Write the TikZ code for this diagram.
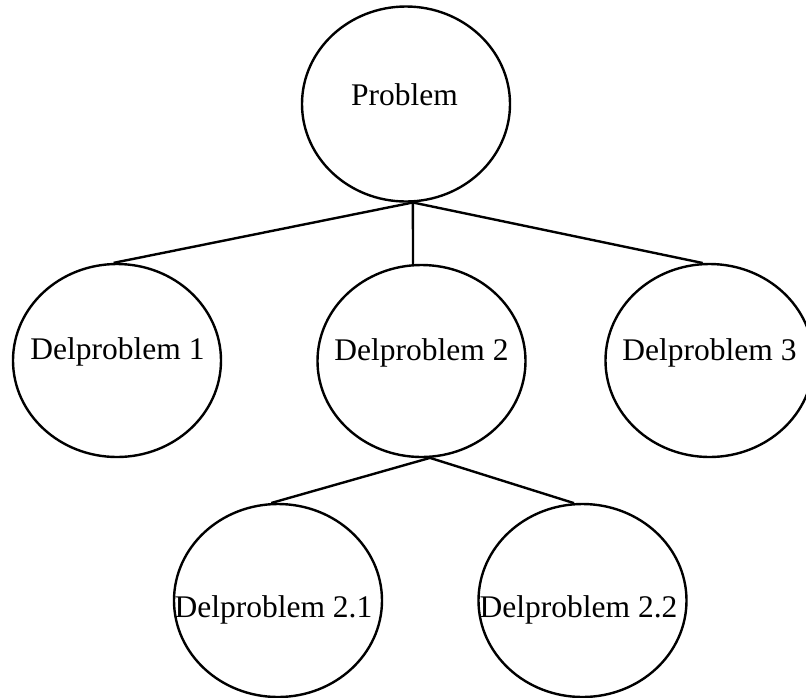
\documentclass[tikz,border=0pt]{standalone}
\usepackage{fontspec}
\setmainfont{Liberation Serif}
\usetikzlibrary{shapes.geometric}
\begin{document}
\begin{tikzpicture}[x=1pt,y=-1pt,
  bubble/.style={draw=black, line width=2.4pt, ellipse, inner sep=0pt,
    minimum width=208pt, minimum height=193pt},
  caption/.style={anchor=base, inner sep=0pt,
    font=\fontsize{31.5}{37}\selectfont},
  link/.style={draw=black, line width=2.4pt}]
  \useasboundingbox (0,0) rectangle (806,697);

  % problem tree: ellipses
  \node[bubble, minimum height=195pt] (p)   at (406,104)   {};
  \node[bubble] (d1)  at (117,360.5)   {};
  \node[bubble, minimum height=192pt] (d2)  at (421.5,361) {};
  \node[bubble] (d3)  at (709.5,360.5) {};
  \node[bubble] (d21) at (278,600.5)   {};
  \node[bubble] (d22) at (582.5,600.5) {};

  % labels
  \node[caption] (tp)   at (404.5,105) {Problem};
  \node[caption] (t1)   at (117.5,359) {Delproblem 1};
  \node[caption] (t2)   at (421.5,360) {Delproblem 2};
  \node[caption] (t3)   at (709.5,360) {Delproblem 3};
  \node[caption] (t21)  at (273.5,617) {Delproblem 2.1};
  \node[caption] (t22)  at (578.5,617) {Delproblem 2.2};

  % connectors
  \draw[link] (p.-86.5) -- (d1.92.4);
  \draw[link] (p.-86.5) -- (d2.95);
  \draw[link] (p.-86.5) -- (d3.94.4);
  \draw[link] (d2.-85) -- (d21.94.7);
  \draw[link] (d2.-85) -- (d22.95.6);
\end{tikzpicture}
\end{document}
